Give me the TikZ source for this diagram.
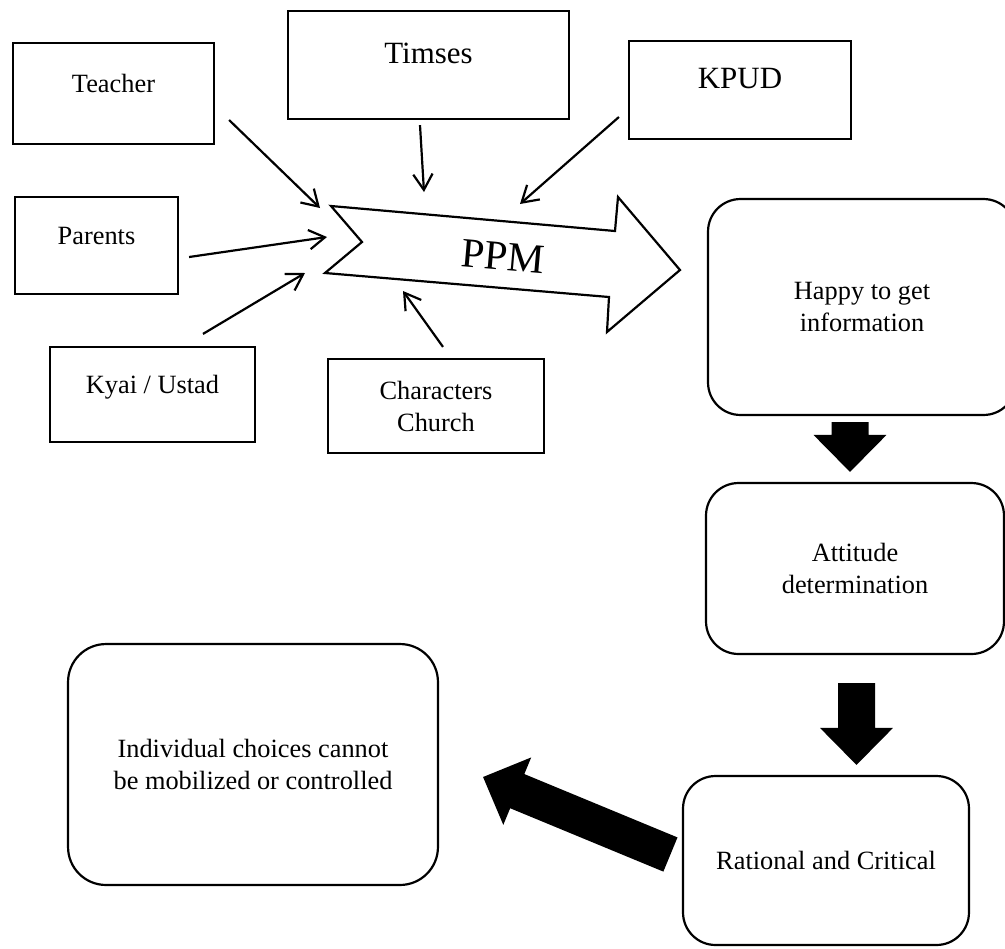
\documentclass[tikz,border=0pt]{standalone}
\usepackage{fontspec}
\setmainfont{Liberation Serif}
\usetikzlibrary{calc,arrows.meta}
\newcommand{\drawBigArrow}[2]{% from, to
  \coordinate (bighead) at ($(#2)!0.74cm!(#1)$);
  \fill ($(#1)!0.37cm!90:(#2)$) -- ($(bighead)!0.37cm!90:(#2)$)
    -- ($(bighead)!0.73cm!90:(#2)$) -- (#2)
    -- ($(bighead)!0.73cm!-90:(#2)$) -- ($(bighead)!0.37cm!-90:(#2)$)
    -- ($(#1)!0.37cm!-90:(#2)$) -- cycle;
}
\begin{document}
\begin{tikzpicture}[x=0.02cm,y=-0.02cm,line width=1.25pt,
  srcbox/.style={draw,font=\fontsize{15}{18.2}\selectfont,text height=0.36cm,text depth=0.42cm},
  bigsrc/.style={srcbox,font=\fontsize{17.6}{21}\selectfont},
  stepbox/.style={draw,rounded corners=0.65cm,align=center,font=\fontsize{15}{18.2}\selectfont},
  inarrow/.style={-{Straight Barb[length=9pt,width=11pt]}}]
\useasboundingbox (0,0) rectangle (1005,948);

% Sources
\node[srcbox,minimum width=4.02cm,minimum height=2.02cm] (teacher) at (113.5,93.5) {Teacher};
\node[bigsrc,minimum width=5.62cm,minimum height=2.16cm] (timses) at (428.5,65) {Timses};
\node[bigsrc,minimum width=4.44cm,minimum height=1.96cm] (kpud) at (740,90) {KPUD};
\node[srcbox,minimum width=3.26cm,minimum height=1.94cm] (parents) at (96.5,245.5) {Parents};
\node[srcbox,minimum width=4.10cm,minimum height=1.90cm] (kyai) at (152.5,394.5) {Kyai / Ustad};
\node[stepbox,rounded corners=0pt,minimum width=4.32cm,minimum height=1.88cm] (church) at (436,406) {Characters\\Church};

% PPM arrow
\draw (331,206) -- (615,231) -- (618,197) -- (680,270) -- (607,332) -- (609,297)
  -- (325,273) -- (362,242) -- cycle;
\node[font=\fontsize{23.7}{28}\selectfont,rotate=-5] (ppm) at (503,257) {PPM};

\draw[inarrow] ($(teacher.east)+(14,26.5)$) -- ($(ppm)+(-183,-49)$);
\draw[inarrow] ($(timses.south)+(-8.5,5)$) -- ($(ppm)+(-79,-65)$);
\draw[inarrow] ($(kpud.west)+(-9,27)$) -- ($(ppm)+(17,-53)$);
\draw[inarrow] ($(parents.east)+(10,11.5)$) -- ($(ppm)+(-176,-20)$);
\draw[inarrow] ($(kyai.north)+(50.5,-12)$) -- ($(ppm)+(-198,16)$);
\draw[inarrow] ($(church.north)+(7,-11)$) -- ($(ppm)+(-100,34)$);

% Steps
\node[stepbox,minimum width=6.16cm,minimum height=4.32cm] (happy) at (862,307) {Happy to get\\information};
\node[stepbox,minimum width=5.96cm,minimum height=3.42cm] (attitude) at (855,568.5) {Attitude\\determination};
\node[stepbox,minimum width=5.72cm,minimum height=3.38cm] (rational) at (826,860.5) {Rational and Critical};
\node[stepbox,rounded corners=0.76cm,minimum width=7.40cm,minimum height=4.82cm] (individual) at (253,764.5) {Individual choices cannot\\be mobilized or controlled};

\coordinate (a1s) at ($(happy.south)+(-12,6)$);
\coordinate (a1e) at ($(attitude.north)+(-5,-10)$);
\coordinate (a2s) at ($(attitude.south)+(1.5,28)$);
\coordinate (a2e) at ($(rational.north)+(30.5,-10)$);
\coordinate (a3s) at ($(rational.west)+(-11.5,-6)$);
\coordinate (a3e) at ($(individual.east)+(44,12.5)$);
\drawBigArrow{a1s}{a1e}
\drawBigArrow{a2s}{a2e}
\drawBigArrow{a3s}{a3e}

\end{tikzpicture}
\end{document}
